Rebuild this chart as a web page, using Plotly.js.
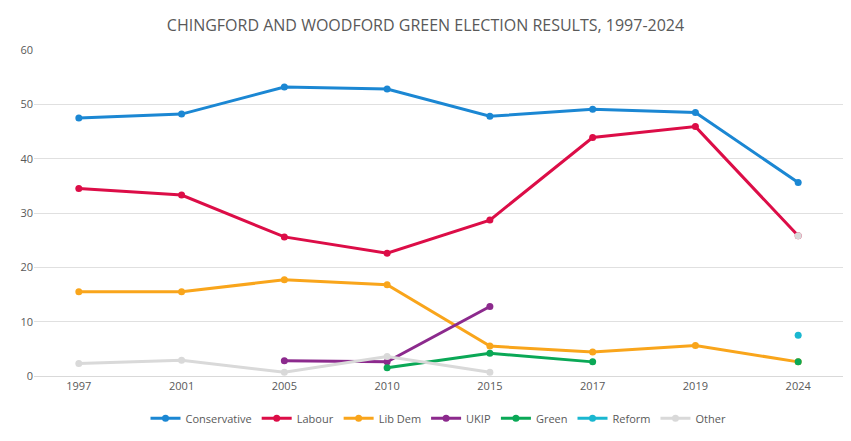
<!DOCTYPE html>
<html>
<head>
<script src="https://cdn.plot.ly/plotly-3.0.1.min.js"></script>
<style>html,body{margin:0;padding:0;background:#fff}</style>
</head>
<body>
<div id="chart" style="width:851px;height:441px"></div>
<script>
// Vote share (%) per election
const years = ['1997', '2001', '2005', '2010', '2015', '2017', '2019', '2024'];
const conservative = [47.5, 48.2, 53.2, 52.8, 47.8, 49.1, 48.5, 35.6];
const labour = [34.5, 33.3, 25.6, 22.6, 28.7, 43.9, 45.9, 25.8];
const libDem = [15.5, 15.5, 17.7, 16.8, 5.5, 4.4, 5.6, 2.6];
const ukip = [null, null, 2.8, 2.6, 12.8, null, null, null];
const green = [null, null, null, 1.5, 4.2, 2.6, null, 2.6];
const reform = [null, null, null, null, null, null, null, 7.5];
const other = [2.3, 2.9, 0.7, 3.6, 0.7, null, null, 25.8];

const series = [
  ['Conservative', conservative, '#1b87d3'],
  ['Labour', labour, '#dc0d47'],
  ['Lib Dem', libDem, '#f9a51b'],
  ['UKIP', ukip, '#8c2a8d'],
  ['Green', green, '#0aa856'],
  ['Reform', reform, '#1ab7d0'],
  ['Other', other, '#d9d9d9']
];

const traces = series.map(([name, y, color]) => ({
  type: 'scatter',
  mode: 'lines+markers',
  x: years,
  y: y,
  name: name,
  line: { color: color, width: 3 },
  marker: { color: color, size: 7 }
}));

const layout = {
  title: { text: 'CHINGFORD AND WOODFORD GREEN ELECTION RESULTS, 1997-2024', font: { family: 'Open Sans, sans-serif', size: 16, color: '#595959' }, x: 0.5, y: 0.955 },
  font: { family: 'Open Sans, sans-serif', size: 11, color: '#595959' },
  xaxis: { type: 'category', showgrid: false, linecolor: '#d9d9d9', showline: true, ticks: '', tickfont: { size: 11 } },
  yaxis: { range: [0, 60], dtick: 10, gridcolor: '#e0e0e0', zeroline: false, tickfont: { size: 11 } },
  legend: { orientation: 'h', x: 0.5, xanchor: 'center', y: -0.085, font: { size: 11 } },
  margin: { l: 34, r: 8, t: 50, b: 63 - 18 },
  paper_bgcolor: '#fff',
  plot_bgcolor: '#fff'
};

Plotly.newPlot('chart', traces, layout, { displayModeBar: false });
</script>
</body>
</html>
